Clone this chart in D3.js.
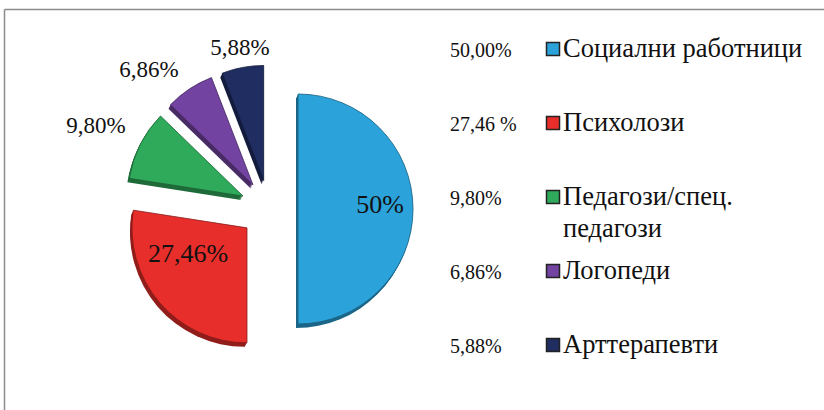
<!DOCTYPE html>
<html>
<head>
<meta charset="utf-8">
<script src="https://cdn.jsdelivr.net/npm/d3@7"></script>
<style>
  body { margin: 0; background: #fff; }
</style>
</head>
<body>
<div id="chart"></div>
<script>
// data
var categories = ["Социални работници", "Психолози", "Педагози/спец.\nпедагози", "Логопеди", "Арттерапевти"];
var values = [50.00, 27.46, 9.80, 6.86, 5.88];
var sliceLabels = ["50%", "27,46%", "9,80%", "6,86%", "5,88%"];
var legendPercents = ["50,00%", "27,46 %", "9,80%", "6,86%", "5,88%"];
var colors = ["#2ba2d9", "#e72e2b", "#2faa5a", "#7243a0", "#1f2d61"];

var width = 824, height = 410;
var cx = 269, cy = 209, radius = 115, explode = 29;
var serif = "'Liberation Serif', 'Times New Roman', Tinos, 'DejaVu Serif', serif";

var svg = d3.select("#chart")
  .append("svg")
    .attr("width", width)
    .attr("height", height)
    .style("font-family", serif);

// frame (only top and left edges are visible)
svg.append("line").attr("x1", 4.5).attr("y1", 9.5).attr("x2", width).attr("y2", 9.5)
  .attr("stroke", "#8c8c8c").attr("stroke-width", 1.5);
svg.append("line").attr("x1", 4.5).attr("y1", 9.5).attr("x2", 4.5).attr("y2", height)
  .attr("stroke", "#8c8c8c").attr("stroke-width", 1.5);

var pie = d3.pie().sort(null).value(function(d) { return d; });
var arcs = pie(values);
var arc = d3.arc().innerRadius(0).outerRadius(radius);

function offset(d) {
  var a = (d.startAngle + d.endAngle) / 2;
  return [Math.sin(a) * explode, -Math.cos(a) * explode];
}

var g = svg.append("g").attr("transform", "translate(" + cx + "," + cy + ")");

// extrusion (fake 3d depth)
var depth = [1, 2, 3, 4];
arcs.forEach(function(d, i) {
  var o = offset(d);
  var dark = d3.color(colors[i]).darker(1.3);
  depth.forEach(function(k) {
    g.append("path")
      .attr("d", arc(d))
      .attr("transform", "translate(" + (o[0] - k * 0.5) + "," + (o[1] + k) + ")")
      .attr("fill", dark);
  });
});

// slices
g.selectAll("path.slice")
  .data(arcs)
  .enter()
  .append("path")
    .attr("class", "slice")
    .attr("d", arc)
    .attr("transform", function(d) { var o = offset(d); return "translate(" + o[0] + "," + o[1] + ")"; })
    .attr("fill", function(d, i) { return colors[i]; })
    .attr("stroke", function(d, i) { return d3.color(colors[i]).darker(1.5); })
    .attr("stroke-width", 0.8);

// slice labels
var labelPos = [
  {x: 380, y: 213, size: 26},
  {x: 188, y: 262, size: 26},
  {x: 96, y: 133, size: 23},
  {x: 149, y: 77, size: 23},
  {x: 240, y: 55, size: 23}
];
svg.selectAll("text.slabel")
  .data(sliceLabels)
  .enter()
  .append("text")
    .attr("class", "slabel")
    .attr("x", function(d, i) { return labelPos[i].x; })
    .attr("y", function(d, i) { return labelPos[i].y; })
    .attr("text-anchor", "middle")
    .attr("fill", "#111")
    .style("font-size", function(d, i) { return labelPos[i].size + "px"; })
    .text(function(d) { return d; });

// legend
var rowY = d3.scalePoint().domain(d3.range(categories.length)).range([57, 353]);
var legend = svg.selectAll("g.legend")
  .data(categories)
  .enter()
  .append("g")
    .attr("class", "legend")
    .attr("transform", function(d, i) { return "translate(0," + rowY(i) + ")"; });

legend.append("text")
  .attr("x", 450)
  .attr("y", 0)
  .attr("fill", "#111")
  .style("font-size", "20px")
  .text(function(d, i) { return legendPercents[i]; });

legend.append("rect")
  .attr("x", 546.5)
  .attr("y", -14.5)
  .attr("width", 13)
  .attr("height", 13)
  .attr("fill", function(d, i) { return colors[i]; })
  .attr("stroke", "#222")
  .attr("stroke-width", 1.5);

legend.append("text")
  .attr("x", 563)
  .attr("y", 0)
  .attr("fill", "#111")
  .style("font-size", "26.5px")
  .selectAll("tspan")
  .data(function(d) { return d.split("\n"); })
  .enter()
  .append("tspan")
    .attr("x", 563)
    .attr("dy", function(d, i) { return i === 0 ? 0 : 32; })
    .text(function(d) { return d; });
</script>
</body>
</html>
